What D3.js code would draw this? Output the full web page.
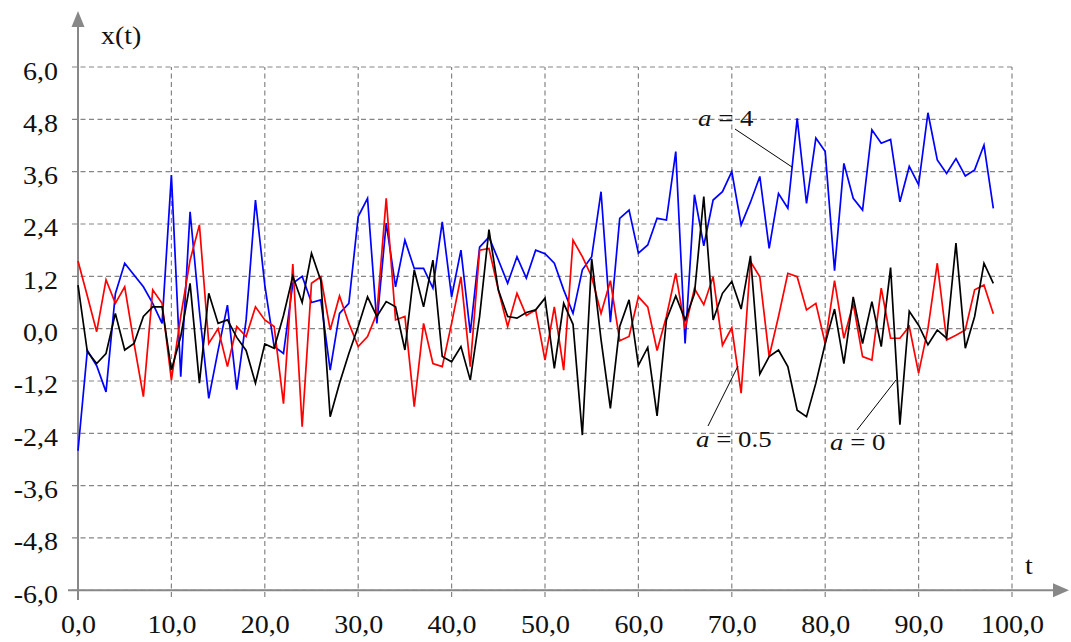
<!DOCTYPE html>
<html>
<head>
<meta charset="utf-8">
<script src="https://cdn.jsdelivr.net/npm/d3@7"></script>
<style>
  html, body { margin: 0; padding: 0; background: #fff; }
  svg { display: block; }
  text { font-family: "Liberation Serif", "Times New Roman", serif; fill: #111; }
</style>
</head>
<body>
<svg id="chart" width="1071" height="642"></svg>
<script>
// Sample index (time steps) and the three realisations x(t)
const steps = d3.range(0, 99);

const seriesA4 = [
  -2.8, -0.5, -0.85, -1.45, 0.8, 1.5, 1.23, 0.96, 0.58, 0.12,
  3.52, -1.1, 2.68, 0.4, -1.6, -0.5, 0.54, -1.4, 0.2, 2.95,
  1.0, -0.41, -0.57, 1.04, 1.2, 0.6, 0.66, -0.95, 0.35, 0.58,
  2.57, 2.99, 0.12, 2.42, 0.96, 2.03, 1.38, 1.38, 0.93, 2.45,
  0.73, 1.8, -0.1, 1.87, 2.1, 1.58, 1.04, 1.65, 1.16, 1.8,
  1.72, 1.5, 0.89, 0.35, 1.35, 1.65, 3.14, 0.15, 2.53, 2.72,
  1.73, 1.92, 2.53, 2.49, 4.06, -0.34, 3.07, 1.9, 2.95, 3.14,
  3.6, 2.38, 2.9, 3.49, 1.84, 3.1, 2.76, 4.82, 2.87, 4.37,
  4.06, 1.33, 3.79, 2.99, 2.72, 4.56, 4.25, 4.34, 2.91, 3.72,
  3.3, 4.95, 3.87, 3.56, 3.9, 3.5, 3.64, 4.21, 2.76
];

const seriesA05 = [
  1.55, 0.75, -0.07, 1.12, 0.58, 0.96, -0.34, -1.56, 0.89, 0.58,
  -1.18, 0.28, 1.57, 2.38, -0.34, 0.0, -0.87, 0.05, -0.18, 0.5,
  0.2, 0.05, -1.72, 1.48, -2.25, 1.04, 1.19, -0.03, 0.75, 0.12,
  -0.41, -0.18, 0.35, 2.99, 0.2, 0.28, -1.79, 0.12, -0.8, -0.87,
  0.12, 1.19, -0.87, 1.8, 1.84, 0.89, 0.05, 0.81, 0.3, 0.43,
  -0.72, 0.5, -0.95, 2.03, 1.65, 1.19, 0.35, 1.1, -0.28, -0.18,
  0.73, 0.5, -0.5, 0.28, 1.27, 0.0, 0.92, 0.55, 1.19, -0.38,
  0.02, -1.48, 1.54, 1.19, -0.64, 0.28, 1.27, 1.19, 0.43, 0.58,
  -0.34, 1.1, -0.22, 0.58, -0.64, -0.72, 0.93, -0.22, -0.22, 0.05,
  -1.02, 0.0, 1.5, -0.26, -0.15, -0.03, 0.89, 1.0, 0.34
];

const seriesA0 = [
  1.0, -0.53, -0.8, -0.57, 0.35, -0.49, -0.34, 0.28, 0.5, 0.5,
  -0.95, -0.18, 1.04, -1.25, 0.81, 0.12, 0.2, -0.2, -0.5, -1.25,
  -0.35, -0.45, 0.3, 1.2, 0.6, 1.73, 1.1, -2.02, -1.25, -0.57,
  0.05, 0.73, 0.28, 0.62, 0.5, -0.49, 1.35, 0.5, 1.57, -0.64,
  -0.76, -0.41, -1.18, 0.28, 2.27, 0.89, 0.28, 0.24, 0.37, 0.43,
  0.7, -0.91, 0.58, 0.1, -2.44, 1.6, -0.25, -1.83, 0.05, 0.66,
  -0.84, -0.43, -2.0, 0.2, 0.75, 0.2, 0.8, 3.03, 0.2, 0.81,
  1.08, 0.45, 1.67, -1.04, -0.64, -0.49, -0.87, -1.87, -2.02, -1.25,
  -0.34, 0.45, -0.8, 0.73, -0.34, 0.62, -0.41, 1.4, -2.2, 0.4,
  0.08, -0.37, -0.03, -0.22, 1.96, -0.45, 0.28, 1.5, 1.04
];

const xTicks = [0, 10, 20, 30, 40, 50, 60, 70, 80, 90, 100];
const yTicks = [-6.0, -4.8, -3.6, -2.4, -1.2, 0.0, 1.2, 2.4, 3.6, 4.8, 6.0];

const svg = d3.select("#chart");
const x = d3.scaleLinear().domain([0, 100]).range([78, 1012]);
const y = d3.scaleLinear().domain([-6, 6]).range([590.3, 67]);

const gridColor = "#858585";
const axisColor = "#888888";
const stretch = 1.12;               // wide serif face for the numerals
const fmt = v => d3.format(".1f")(v).replace(".", ",").replace("−", "-");

// dashed grid
const grid = svg.append("g");
grid.selectAll("line.h").data(yTicks).join("line")
  .attr("x1", 72).attr("x2", x(100))
  .attr("y1", d => y(d)).attr("y2", d => y(d))
  .attr("stroke", gridColor).attr("stroke-width", 1.2)
  .attr("stroke-dasharray", "5,3.5");
grid.selectAll("line.v").data(xTicks.slice(1)).join("line")
  .attr("x1", d => x(d)).attr("x2", d => x(d))
  .attr("y1", 597).attr("y2", y(6))
  .attr("stroke", gridColor).attr("stroke-width", 1.2)
  .attr("stroke-dasharray", "5,3.5");

// tick labels through d3 axes
const yAxis = svg.append("g").attr("transform", `translate(${x(0)},0)`)
  .call(d3.axisLeft(y).tickValues(yTicks).tickFormat(fmt).tickSize(0).tickPadding(20));
const xAxis = svg.append("g").attr("transform", `translate(0,${y(-6)})`)
  .call(d3.axisBottom(x).tickValues(xTicks).tickFormat(fmt).tickSize(0));
[yAxis, xAxis].forEach(g => {
  g.select(".domain").remove();
  g.selectAll("text")
    .attr("font-family", null)
    .style("font-size", "25px")
    .attr("fill", "#111");
});
yAxis.selectAll("text")
  .attr("dy", "0.48em")
  .attr("x", -20 / stretch)
  .attr("transform", `scale(${stretch},1)`);
xAxis.selectAll("text")
  .attr("y", 43).attr("dy", 0)
  .attr("transform", `scale(${stretch},1)`);

// axis lines with arrowheads
svg.append("line").attr("x1", x(0)).attr("x2", x(0)).attr("y1", 600).attr("y2", 24)
  .attr("stroke", axisColor).attr("stroke-width", 2);
svg.append("path").attr("d", `M${x(0)},11 L${x(0) - 6.5},27 L${x(0) + 6.5},27 Z`).attr("fill", axisColor);
svg.append("line").attr("x1", 68).attr("x2", 1056).attr("y1", y(-6)).attr("y2", y(-6))
  .attr("stroke", axisColor).attr("stroke-width", 2);
svg.append("path").attr("d", `M1069,${y(-6)} L1053,${y(-6) - 7} L1053,${y(-6) + 7} Z`).attr("fill", axisColor);

// axis titles
svg.append("text").attr("transform", `translate(101,43.5) scale(${stretch},1)`)
  .style("font-size", "25px").text("x(t)");
svg.append("text").attr("transform", `translate(1025,574) scale(${stretch},1)`)
  .style("font-size", "25px").text("t");

// series
const line = d3.line().x((d, i) => x(steps[i])).y(d => y(d));
const series = [
  { values: seriesA4, color: "#0000ff" },
  { values: seriesA05, color: "#ff0000" },
  { values: seriesA0, color: "#000000" }
];
svg.append("g").selectAll("path").data(series).join("path")
  .attr("d", d => line(d.values))
  .attr("fill", "none")
  .attr("stroke", d => d.color)
  .attr("stroke-width", 1.7)
  .attr("stroke-linejoin", "miter");

// curve annotations with leader lines
const notes = [
  { num: "4",   tx: 698, ty: 126, x1: 735, y1: 129, x2: 792, y2: 167 },
  { num: "0.5", tx: 696, ty: 447, x1: 708, y1: 426, x2: 738, y2: 366 },
  { num: "0",   tx: 830, ty: 450, x1: 857, y1: 430, x2: 896, y2: 380 }
];
const ann = svg.append("g");
ann.selectAll("line").data(notes).join("line")
  .attr("x1", d => d.x1).attr("y1", d => d.y1)
  .attr("x2", d => d.x2).attr("y2", d => d.y2)
  .attr("stroke", "#000").attr("stroke-width", 1);
const labels = ann.selectAll("text").data(notes).join("text")
  .attr("transform", d => `translate(${d.tx},${d.ty}) scale(${stretch},1)`)
  .style("font-size", "24px");
labels.append("tspan").style("font-style", "italic").text("a");
labels.append("tspan").text(d => " = " + d.num);
</script>
</body>
</html>
